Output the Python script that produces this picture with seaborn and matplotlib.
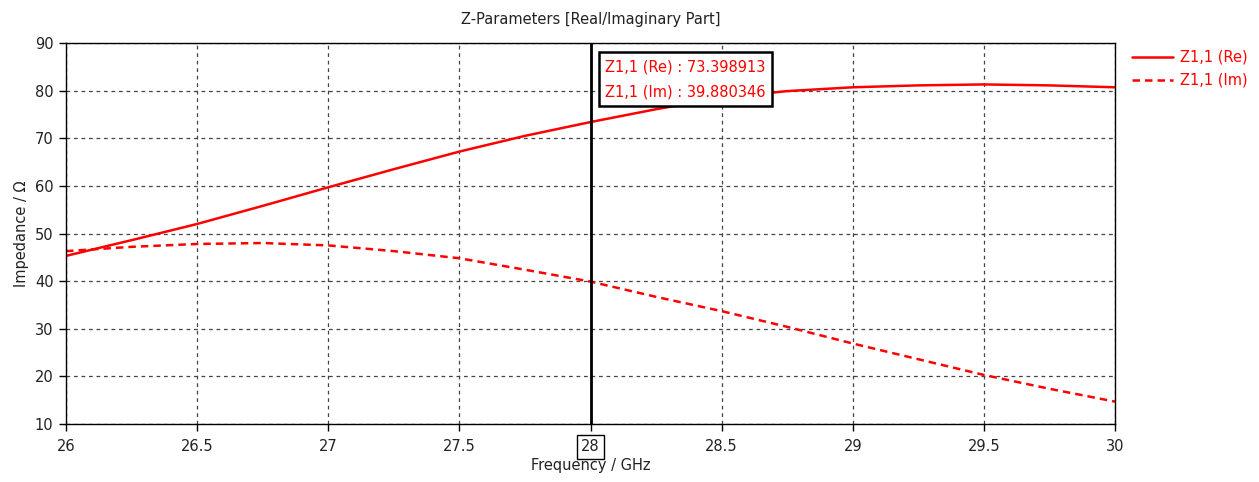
import matplotlib
matplotlib.use("Agg")
import matplotlib.pyplot as plt
import seaborn as sns
import pandas as pd
import numpy as np

freq = [26.0, 26.25, 26.5, 26.75, 27.0, 27.25, 27.5, 27.75, 28.0,
        28.25, 28.5, 28.75, 29.0, 29.25, 29.5, 29.75, 30.0]
z11_re = [45.3, 48.6, 52.0, 55.8, 59.7, 63.5, 67.2, 70.5, 73.4,
          76.1, 78.5, 79.9, 80.7, 81.1, 81.3, 81.1, 80.7]
z11_im = [46.3, 47.2, 47.8, 48.0, 47.5, 46.3, 44.8, 42.4, 39.9,
          36.7, 33.7, 30.4, 26.9, 23.6, 20.3, 17.4, 14.7]
xticks = [26, 26.5, 27, 27.5, 28, 28.5, 29, 29.5, 30]
xticklabels = ["26", "26.5", "27", "27.5", "28", "28.5", "29", "29.5", "30"]
yticks = [10, 20, 30, 40, 50, 60, 70, 80, 90]
marker_freq = 28.0
marker_re = 73.398913
marker_im = 39.880346

sns.set_theme(style="white")
plt.rcParams['font.family'] = ['DejaVu Sans']

df_re = pd.DataFrame({"f": freq, "z": z11_re})
df_im = pd.DataFrame({"f": freq, "z": z11_im})

fig = plt.figure(figsize=(12.59, 4.82), dpi=100)
ax = fig.add_axes([66/1259, 1-424/482, (1115-66)/1259, (424-43)/482])

sns.lineplot(data=df_re, x="f", y="z", ax=ax, color="red", lw=1.8,
             label="Z1,1 (Re)")
sns.lineplot(data=df_im, x="f", y="z", ax=ax, color="red", lw=1.8,
             linestyle=(0, (3, 2)), label="Z1,1 (Im)")

ax.set_xlim(26, 30)
ax.set_ylim(10, 90)
ax.set_xticks(xticks)
ax.set_xticklabels(xticklabels)
ax.set_yticks(yticks)
ax.grid(True, color="#444444", linestyle=(0, (3, 3)), lw=0.9)
for s in ax.spines.values():
    s.set_color("black")
    s.set_linewidth(1.0)
ax.tick_params(axis="both", which="both", direction="out", length=5,
               width=1, color="black", labelsize=10.5, labelcolor="#222222",
               bottom=True, left=True)
ax.tick_params(axis="x", pad=6)
ax.tick_params(axis="y", pad=4)
ax.set_xlabel("Frequency / GHz", fontsize=10.5, color="#222222", labelpad=3)
ax.set_ylabel("Impedance / Ω", fontsize=10.5, color="#222222", labelpad=4)
ax.set_title("Z-Parameters [Real/Imaginary Part]", fontsize=10.5,
             color="#222222", pad=14)

# marker line
ax.axvline(marker_freq, color="black", lw=2)
# boxed tick label at 28
for lbl, t in zip(ax.get_xticklabels(), xticks):
    if t == marker_freq:
        lbl.set_bbox(dict(facecolor="white", edgecolor="black", lw=1,
                          boxstyle="square,pad=0.3"))

ax.text(0.514, 0.958,
        f"Z1,1 (Re) : {marker_re:.6f}\nZ1,1 (Im) : {marker_im:.6f}",
        transform=ax.transAxes, ha="left", va="top", color="red",
        fontsize=10.5, linespacing=1.85, zorder=10,
        bbox=dict(facecolor="white", edgecolor="black", lw=1.8,
                  boxstyle="square,pad=0.45"))

leg = ax.legend(loc="upper left", bbox_to_anchor=(1.008, 1.005), frameon=False,
                fontsize=10.5, handlelength=2.8, labelspacing=0.55,
                handletextpad=0.5, borderaxespad=0.2)
for t in leg.get_texts():
    t.set_color("red")

fig.savefig("out.png", dpi=100)
